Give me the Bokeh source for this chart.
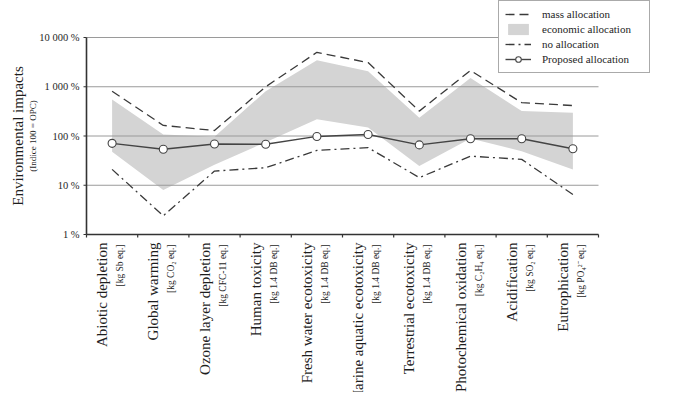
import math
from bokeh.plotting import figure
from bokeh.models import Range1d, Legend, LegendItem
from bokeh.core.properties import value
from bokeh.embed import file_html
from bokeh.resources import INLINE

# ---------------- data ----------------
categories = ["Abiotic depletion", "Global warming", "Ozone layer depletion",
              "Human toxicity", "Fresh water ecotoxicity", "Marine aquatic ecotoxicity",
              "Terrestrial ecotoxicity", "Photochemical oxidation", "Acidification",
              "Eutrophication"]
units = ["[kg Sb eq.]", "[kg CO\u2082 eq.]", "[kg CFC-11 eq.]", "[kg 1.4 DB eq.]",
         "[kg 1.4 DB eq.]", "[kg 1.4 DB eq.]", "[kg 1.4 DB eq.]",
         "[kg C\u2082H\u2084 eq.]", "[kg SO\u2082 eq.]", "[kg PO\u2084\u00b2\u207b eq.]"]
mass_alloc = [810, 164, 129, 1000, 5000, 3100, 320, 2140, 475, 415]
econ_high = [550, 107, 97, 810, 3470, 2070, 235, 1500, 320, 295]
econ_low = [48, 8, 26, 75, 218, 148, 24.5, 89, 49, 21]
no_alloc = [21, 2.4, 19.4, 22.7, 51, 58, 14.3, 39, 33.5, 6.5]
proposed = [71, 54, 69, 68, 98, 107, 66, 88, 88, 55]
y_ticks = [1, 10, 100, 1000, 10000]
y_tick_labels = ["1 %", "10 %", "100 %", "1 000 %", "10 000 %"]
y_title = "Environmental impacts"
y_subtitle = "(Indice 100 = OPC)"

# ---------------- layout ----------------
SERIF = "Liberation Serif"
TXT = "#1e1e1e"
W, H = 664, 392
PL, PR, PT, PB = 86, 598, 37, 234          # plot area inside canvas (px)
n = len(categories)
xs = [i + 0.5 for i in range(n)]
X0, X1 = 0, n
Y0, Y1 = y_ticks[0], y_ticks[-1]
ppx = (PR - PL) / (X1 - X0)
ppd = (PB - PT) / (math.log10(Y1) - math.log10(Y0))
x_range = Range1d(X0 - PL / ppx, X1 + (W - PR) / ppx)
y_range = Range1d(10 ** (math.log10(Y0) - (H - PB) / ppd), 10 ** (math.log10(Y1) + PT / ppd))

p = figure(width=W, height=H, x_range=x_range, y_range=y_range, y_axis_type="log",
           x_axis_location=None, y_axis_location=None, min_border=0,
           output_backend="svg", toolbar_location=None)
p.outline_line_color = None
p.grid.visible = False

# economic band
band = p.varea(x=xs, y1=econ_low, y2=econ_high, fill_color="#d4d4d4")

# grid lines (over the band, like the reference)
grid_y = y_ticks[1:]
p.segment(x0=[X0] * len(grid_y), y0=grid_y, x1=[X1] * len(grid_y), y1=grid_y,
          line_color="#9a9a9a", line_width=1)

# series
mass_r = p.line(xs, mass_alloc, line_color="#3a3a3a", line_width=1.3, line_dash="9 5")
none_r = p.line(xs, no_alloc, line_color="#3a3a3a", line_width=1.3, line_dash="9 4 2 4")
prop_l = p.line(xs, proposed, line_color="#444444", line_width=1.4)
prop_c = p.scatter(xs, proposed, size=8, fill_color="white", line_color="#444444", line_width=1.1)

# axes
p.segment(x0=[X0, X0], y0=[Y0, Y0], x1=[X1, X0], y1=[Y0, Y1], line_color="#333333", line_width=1.6)
p.ray(x=[X0] * len(y_ticks), y=y_ticks, length=3, length_units="screen", angle=math.pi,
      line_color="#333333", line_width=1.2)
p.ray(x=list(range(X0, X1 + 1)), y=[Y0] * (n + 1), length=3, length_units="screen",
      angle=-math.pi / 2, line_color="#333333", line_width=1.2)
p.text(x=[X0] * len(y_ticks), y=y_ticks, text=y_tick_labels, x_offset=-7,
       text_align="right", text_baseline="middle", text_font=value(SERIF),
       text_font_size="10.5px", text_color=TXT)

# category labels
p.text(x=xs, y=[Y0] * n, text=categories, angle=math.pi / 2, x_offset=-10, y_offset=8,
       text_align="right", text_baseline="middle", text_font=value(SERIF),
       text_font_size="15px", text_color=TXT)
p.text(x=xs, y=[Y0] * n, text=units, angle=math.pi / 2, x_offset=8, y_offset=10,
       text_align="right", text_baseline="middle", text_font=value(SERIF),
       text_font_size="9.5px", text_color=TXT)

# y titles
p.text(x=[X0], y=[100], text=[y_title], angle=math.pi / 2, x_offset=-69,
       text_align="center", text_baseline="middle", text_font=value(SERIF),
       text_font_size="15px", text_color=TXT)
p.text(x=[X0], y=[100], text=[y_subtitle], angle=math.pi / 2, x_offset=-54,
       text_align="center", text_baseline="middle", text_font=value(SERIF),
       text_font_size="9px", text_color=TXT)

# legend
legend = Legend(items=[
    LegendItem(label="mass allocation", renderers=[mass_r]),
    LegendItem(label="economic allocation", renderers=[band]),
    LegendItem(label="no allocation", renderers=[none_r]),
    LegendItem(label="Proposed allocation", renderers=[prop_l, prop_c]),
], location=(498, H - 73))
legend.label_text_font = SERIF
legend.label_text_font_size = "11px"
legend.label_text_color = TXT
legend.glyph_width = 26
legend.glyph_height = 14
legend.label_height = 14
legend.label_width = 101
legend.label_standoff = 11
legend.spacing = 1
legend.padding = 6
legend.margin = 0
legend.border_line_color = "#555555"
legend.border_line_width = 1
legend.background_fill_color = "white"
legend.background_fill_alpha = 1
p.add_layout(legend, "center")

open("out.html", "w").write(file_html(p, INLINE))
